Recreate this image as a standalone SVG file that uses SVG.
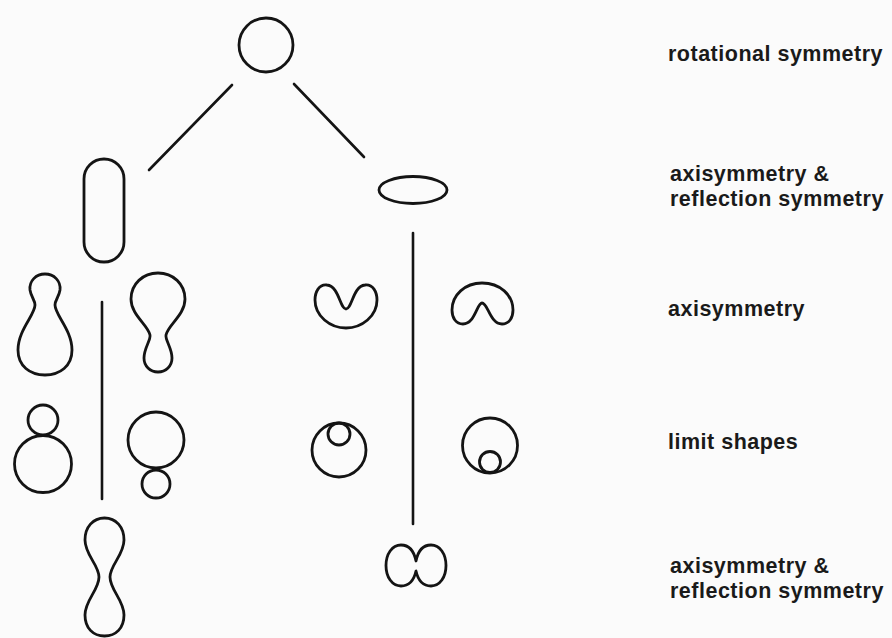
<svg xmlns="http://www.w3.org/2000/svg" width="892" height="638" viewBox="0 0 892 638">
<style>
.s{fill:none;stroke:#141414;stroke-width:2.8;stroke-linejoin:round}
.c{fill:none;stroke:#141414;stroke-width:2.6;stroke-linecap:round}
.t{font-family:"Liberation Sans",Arial,sans-serif;font-weight:bold;font-size:21.5px;letter-spacing:0.5px;fill:#1a1a1a}
</style>
<rect width="892" height="638" fill="#fbfbfb"/>
<g id="connectors">
<line class="c" x1="232" y1="85" x2="149" y2="170"/>
<line class="c" x1="294" y1="84" x2="364" y2="157"/>
<line class="c" x1="102" y1="302" x2="102" y2="499"/>
<line class="c" x1="413" y1="233" x2="413" y2="524"/>
</g>
<g id="sphere"><circle class="s" cx="266" cy="45" r="27"/></g>
<g id="prolate"><rect class="s" x="84" y="159" width="40" height="103" rx="20"/></g>
<g id="oblate"><ellipse class="s" cx="413" cy="190" rx="34" ry="13.5"/></g>
<g id="pear-up"><path class="s" d="M45 274C54 274 61 281 60 290C59 297 55 300 55 305C55 315 72 330 72 350C72 366 60 375 45 375C30 375 18 366 18 350C18 330 35 315 35 305C35 300 31 297 30 290C29 281 36 274 45 274Z"/></g>
<g id="pear-down"><path class="s" d="M158 273C173 273 185 284 185 299C185 315 168 325 166 335C165 340 172 348 172 358C172 366 166 372 158 372C150 372 144 366 144 358C144 348 151 340 150 335C148 325 131 315 131 299C131 284 143 273 158 273Z"/></g>
<g id="stomatocyte-up"><path class="s" d="M346 309C352 309 353 286 365 285C373 284 377 292 377 300C377 316 362 328 346 328C330 328 315 316 315 300C315 292 319 284 327 285C339 286 340 309 346 309Z"/></g>
<g id="stomatocyte-down"><path class="s" d="M482 303C488 303 490 324 502 324C509 324 513 318 513 310C513 295 500 283 482 283C465 283 452 295 452 310C452 318 456 324 463 324C475 324 477 303 482 303Z"/></g>
<g id="limit-small-top"><circle class="s" cx="43" cy="420" r="15"/><circle class="s" cx="43" cy="464" r="28.5"/></g>
<g id="limit-small-bottom"><circle class="s" cx="156" cy="440" r="28"/><circle class="s" cx="156" cy="484" r="14"/></g>
<g id="limit-inner-top"><circle class="s" cx="339" cy="450" r="27"/><circle class="s" cx="339" cy="434" r="11"/></g>
<g id="limit-inner-bottom"><circle class="s" cx="490" cy="445.5" r="27.5"/><circle class="s" cx="490" cy="462" r="10.5"/></g>
<g id="dumbbell"><path class="s" d="M104.5 518C116 518 124 527 124 540C124 555 110 565 110 577C110 590 124 600 124 615C124 628 116 636 104.5 636C93 636 85 628 85 615C85 600 99 590 99 577C99 565 85 555 85 540C85 527 93 518 104.5 518Z"/></g>
<g id="discocyte"><path class="s" d="M416 561C418 551 422 545 431 545C440 545 446 554 446 565.5C446 577 440 586 431 586C422 586 418 580 416 571C414 580 410 586 401 586C392 586 386 577 386 565.5C386 554 392 545 401 545C410 545 414 551 416 561Z"/></g>
<g id="labels">
<text class="t" x="668" y="61">rotational symmetry</text>
<text class="t" x="670" y="181">axisymmetry &amp;</text>
<text class="t" x="670" y="206">reflection symmetry</text>
<text class="t" x="668" y="316">axisymmetry</text>
<text class="t" x="668" y="449">limit shapes</text>
<text class="t" x="670" y="573">axisymmetry &amp;</text>
<text class="t" x="670" y="598">reflection symmetry</text>
</g>
</svg>
